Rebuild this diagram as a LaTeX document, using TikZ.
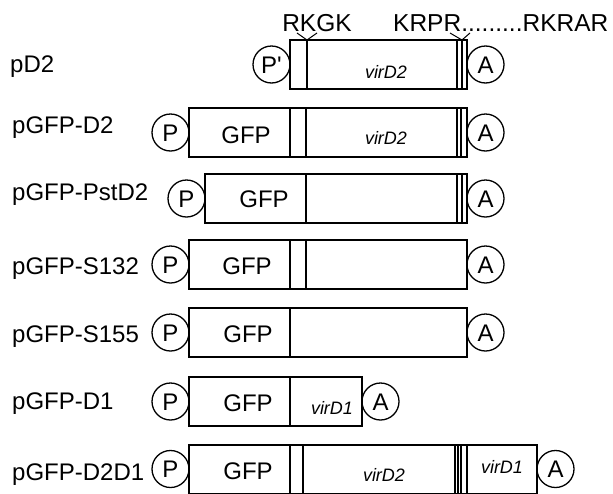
\documentclass[tikz,border=0pt]{standalone}
\usepackage{fontspec}
\setmainfont{Liberation Sans}
\usetikzlibrary{calc}
\begin{document}
\begin{tikzpicture}[x=1pt,y=-1pt,
  cassette/.style={draw=black,line width=1.4pt},
  seplight/.style={line width=1.1pt},
  sepheavy/.style={line width=2.4pt},
  rowlabel/.style={anchor=west,inner sep=0pt,font=\fontsize{24}{28}\selectfont,text height=17.2pt,text depth=0pt},
  genelabel/.style={inner sep=0pt,font=\fontsize{24}{28}\selectfont,text height=17.2pt,text depth=0pt},
  virlabel/.style={inner sep=0pt,font=\fontsize{18}{22}\selectfont\itshape,text height=13pt,text depth=0pt},
  motif/.style={inner sep=0pt,font=\fontsize{24.5}{28}\selectfont,text height=17.5pt,text depth=0pt},
  sig/.style={circle,draw=black,line width=1.3pt,minimum size=37pt,inner sep=0pt,
    font=\fontsize{24}{28}\selectfont,text height=17.2pt,text depth=0pt}]
\useasboundingbox (0,0) rectangle (613,493);

% ---------- pD2 ----------
\node[rowlabel] (l1) at (10,64) {pD2};
\draw[cassette] (290,40) rectangle (467,89);
\draw[sepheavy] (307,40) -- (307,89);
\draw[seplight] (457,40) -- (457,89);
\draw[sepheavy] (462,40) -- (462,89);
\node[sig] (p1) at (271.5,64.5) {P\textquotesingle};
\node[sig] (a1) at (485.5,64.5) {A};
\node[virlabel] (v1) at (386,72) {virD2};
\coordinate (k1) at (307,40);
\coordinate (k2) at (462,40);
\draw[line width=1pt] ($(k1)+(-10,-7)$) -- (k1) -- ($(k1)+(10,-7)$);
\draw[line width=1pt] ($(k2)+(-12,-7)$) -- (k2) -- ($(k2)+(8,-7)$);
\node[motif] (m1) at (317,22.5) {RKGK};
\node[motif,anchor=west] (m2) at (393,22.5) {KRPR.........RKRAR};

% ---------- pGFP-D2 ----------
\node[rowlabel] (l2) at (12,125) {pGFP-D2};
\draw[cassette] (189,108) rectangle (467,157);
\draw[seplight] (290,108) -- (290,157);
\draw[sepheavy] (306,108) -- (306,157);
\draw[seplight] (457,108) -- (457,157);
\draw[seplight] (461,108) -- (461,157);
\node[sig] (p2) at (170.5,132.5) {P};
\node[sig] (a2) at (485.5,132.5) {A};
\node[genelabel] (g2) at (246,135) {GFP};
\node[virlabel] (v2) at (386,138) {virD2};

% ---------- pGFP-PstD2 ----------
\node[rowlabel] (l3) at (12,191.5) {pGFP-PstD2};
\draw[cassette] (205,174) rectangle (467,223);
\draw[line width=1.6pt] (306,174) -- (306,223);
\draw[seplight] (457,174) -- (457,223);
\draw[sepheavy] (462,174) -- (462,223);
\node[sig] (p3) at (186.5,198.5) {P};
\node[sig] (a3) at (485.5,198.5) {A};
\node[genelabel] (g3) at (264,198.5) {GFP};

% ---------- pGFP-S132 ----------
\node[rowlabel] (l4) at (12,266) {pGFP-S132};
\draw[cassette] (189,240) rectangle (467,289);
\draw[seplight] (290,240) -- (290,289);
\draw[sepheavy] (306,240) -- (306,289);
\node[sig] (p4) at (170.5,264.5) {P};
\node[sig] (a4) at (485.5,264.5) {A};
\node[genelabel] (g4) at (247,265.5) {GFP};

% ---------- pGFP-S155 ----------
\node[rowlabel] (l5) at (12,334) {pGFP-S155};
\draw[cassette] (189,308) rectangle (467,357);
\draw[line width=1.3pt] (290,308) -- (290,357);
\node[sig] (p5) at (170.5,332.5) {P};
\node[sig] (a5) at (485.5,332.5) {A};
\node[genelabel] (g5) at (248,334) {GFP};

% ---------- pGFP-D1 ----------
\node[rowlabel] (l6) at (12,401) {pGFP-D1};
\draw[cassette] (189,377) rectangle (362,426);
\draw[line width=1.3pt] (290,377) -- (290,426);
\node[sig] (p6) at (170.5,401.5) {P};
\node[sig] (a6) at (380.5,401.5) {A};
\node[genelabel] (g6) at (248,403) {GFP};
\node[virlabel] (v6) at (332,408) {virD1};

% ---------- pGFP-D2D1 ----------
\node[rowlabel] (l7) at (12,472) {pGFP-D2D1};
\draw[cassette] (189,445) rectangle (537,494);
\draw[seplight] (290,445) -- (290,494);
\draw[sepheavy] (303,445) -- (303,494);
\draw[seplight] (455,445) -- (455,494);
\draw[seplight] (458,445) -- (458,494);
\draw[line width=1.6pt] (461,445) -- (461,494);
\draw[line width=1.3pt] (467,445) -- (467,494);
\node[sig] (p7) at (170.5,469) {P};
\node[sig] (a7) at (555.5,469) {A};
\node[genelabel] (g7) at (248,471) {GFP};
\node[virlabel] (v7) at (384,475) {virD2};
\node[virlabel] (v8) at (502,467) {virD1};
\end{tikzpicture}
\end{document}
